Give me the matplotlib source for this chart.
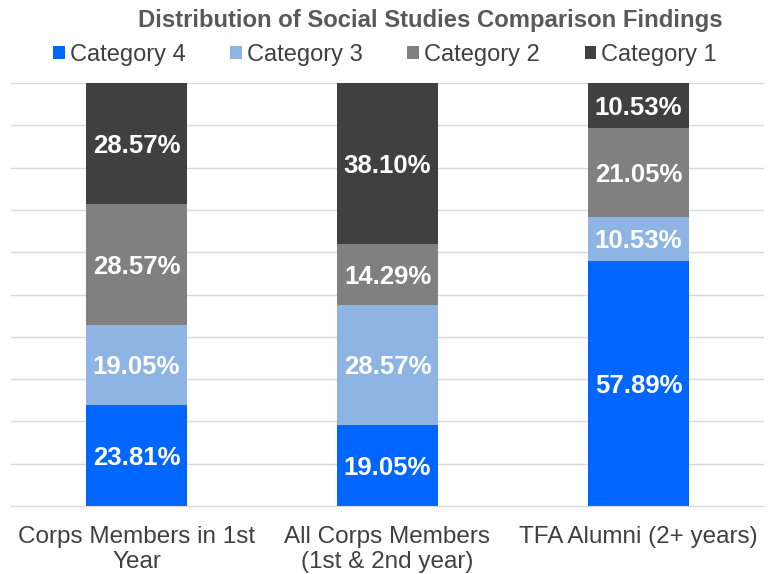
import numpy as np
import matplotlib.pyplot as plt

plt.rcParams['font.family'] = ['Liberation Sans', 'DejaVu Sans']

groups = ['Corps Members in 1st\nYear', 'All Corps Members\n(1st & 2nd year)', 'TFA Alumni (2+ years)']
series = ['Category 4', 'Category 3', 'Category 2', 'Category 1']
cat4 = [23.81, 19.05, 57.89]
cat3 = [19.05, 28.57, 10.53]
cat2 = [28.57, 14.29, 21.05]
cat1 = [28.57, 38.10, 10.53]
colors = ['#0066FF', '#8EB4E3', '#808080', '#404040']

W, H = 773, 574
fig = plt.figure(figsize=(W / 100, H / 100), dpi=100)
ax = fig.add_axes([11 / W, (H - 506) / H, (764 - 11) / W, (506 - 83) / H])

x = np.arange(len(groups))
bottom = np.zeros(len(groups))
for name, vals, c in zip(series, [cat4, cat3, cat2, cat1], colors):
    vals = np.array(vals)
    ax.bar(x, vals, 0.4, bottom=bottom, color=c, label=name, zorder=2)
    for xi, b, v in zip(x, bottom, vals):
        ax.text(xi, b + v / 2, f'{v:.2f}%', ha='center', va='center_baseline',
                color='white', fontsize=18.5, fontweight='bold', zorder=3)
    bottom += vals

ax.set_xlim(-0.5, 2.5)
ax.set_ylim(0, 100)
ax.set_yticks(np.arange(0, 101, 10))
ax.yaxis.grid(True, color='#d9d9d9', linewidth=1, zorder=0)
ax.tick_params(left=False, labelleft=False, bottom=False, pad=11)
ax.set_xticks(x)
ax.set_xticklabels(groups, fontsize=17.5, color='#404040', linespacing=1.15)
for s in ['top', 'right', 'left']:
    ax.spines[s].set_visible(False)
ax.spines['bottom'].set_color('#d9d9d9')

fig.text(430 / W, 1 - 20 / H, 'Distribution of Social Studies Comparison Findings',
         ha='center', va='center', fontsize=17.2, fontweight='bold', color='#595959')

fig.legend(loc='center', bbox_to_anchor=(385 / W, 1 - 55 / H), ncol=4, frameon=False,
           fontsize=17, handlelength=0.5, handleheight=0.5, handletextpad=0.2,
           columnspacing=1.9, labelcolor='#404040', borderpad=0, borderaxespad=0)

fig.savefig('out.png', dpi=100)
